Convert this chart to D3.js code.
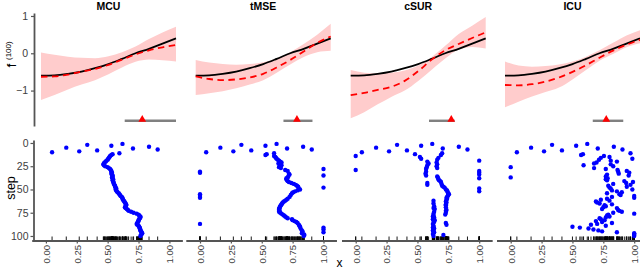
<!DOCTYPE html>
<html><head><meta charset="utf-8">
<script src="https://cdn.jsdelivr.net/npm/d3@7"></script>
<style>
body{margin:0;background:#fff}
svg{display:block}
text{font-family:"Liberation Sans",Arial,Helvetica,sans-serif}
</style>
</head><body>
<svg id="c" width="640" height="269"></svg>
<script>
// ---------------- DATA ----------------
const methods = ["MCU", "tMSE", "cSUR", "ICU"];
const xGrid = [0, 0.1, 0.2, 0.3, 0.4, 0.5, 0.6, 0.7, 0.8, 0.9, 1.0];
const trueF = [-0.60, -0.59, -0.55, -0.49, -0.40, -0.29, -0.15, 0.00, 0.12, 0.26, 0.40];

const meanMCU = [-0.63, -0.62, -0.57, -0.49, -0.42, -0.31, -0.17, -0.03, 0.08, 0.16, 0.22];
const lowMCU  = [-1.25, -1.12, -0.97, -0.84, -0.72, -0.56, -0.38, -0.23, -0.17, -0.19, -0.22];
const upMCU   = [0.02, -0.04, -0.09, -0.12, -0.13, -0.08, 0.03, 0.18, 0.38, 0.56, 0.71];

const meanTMSE = [-0.62, -0.69, -0.72, -0.70, -0.65, -0.55, -0.38, -0.18, 0.05, 0.28, 0.45];
const lowTMSE  = [-1.12, -1.07, -1.02, -0.94, -0.84, -0.72, -0.52, -0.30, -0.10, 0.03, 0.07];
const upTMSE   = [-0.18, -0.25, -0.29, -0.31, -0.29, -0.24, -0.14, 0.03, 0.25, 0.50, 0.79];

const meanCSUR = [-1.12, -1.06, -0.98, -0.90, -0.74, -0.48, -0.17, 0.08, 0.25, 0.41, 0.56];
const lowCSUR  = [-1.74, -1.58, -1.37, -1.17, -1.00, -0.74, -0.44, -0.14, 0.10, 0.17, 0.13];
const upCSUR   = [-0.45, -0.52, -0.54, -0.52, -0.46, -0.33, -0.10, 0.20, 0.52, 0.74, 0.97];

const meanICU = [-0.85, -0.86, -0.83, -0.76, -0.65, -0.50, -0.32, -0.12, 0.07, 0.23, 0.36];
const lowICU  = [-1.45, -1.30, -1.16, -1.04, -0.92, -0.70, -0.45, -0.20, -0.02, 0.16, 0.27];
const upICU   = [-0.22, -0.33, -0.36, -0.34, -0.30, -0.22, -0.09, 0.08, 0.28, 0.48, 0.62];

// interval (grey bar) and triangle marker in the top panels
const barLo = [0.62, 0.65, 0.58, 0.65];
const barHi = [1.00, 0.865, 0.77, 0.876];
const triX  = [0.75, 0.75, 0.745, 0.75];
const barLevel = -1.81;

// initial design (shared)
const initX    = [0.05, 0.165, 0.27, 0.335, 0.415, 0.53, 0.62, 0.705, 0.835, 0.905];
const initStep = [10, 5, 9, 2, 8, 3, 1, 6, 4, 7];

// sequential designs, steps 11..100
const seqMCU = [0.595,0.54,0.53,0.52,0.515,0.51,0.505,0.50,0.49,0.485,
0.475,0.47,0.465,0.47,0.48,0.50,0.51,0.52,0.525,0.53,
0.53,0.535,0.53,0.535,0.54,0.54,0.535,0.54,0.545,0.54,
0.545,0.545,0.55,0.55,0.555,0.56,0.56,0.565,0.57,0.565,
0.57,0.575,0.58,0.59,0.595,0.60,0.605,0.615,0.62,0.62,
0.625,0.63,0.635,0.64,0.645,0.65,0.65,0.645,0.64,0.645,
0.655,0.665,0.67,0.69,0.71,0.735,0.75,0.755,0.765,0.765,
0.76,0.755,0.75,0.75,0.745,0.74,0.735,0.74,0.75,0.755,
0.76,0.76,0.765,0.765,0.77,0.775,0.78,0.775,0.77,0.765];

const seqTMSE = [0.60,0.54,0.53,0.60,0.61,0.615,0.62,0.63,0.64,0.65,
0.66,0.635,0.65,0.66,0.645,0.64,0.655,1.0,0.69,0.71,
0.0,0.0,0.72,0.725,1.0,0.715,0.71,0.70,0.70,0.705,
0.71,0.72,0.74,0.76,0.775,0.785,0.795,1.0,0.80,0.81,
0.79,0.77,0.755,0.745,0.0,0.735,0.0,0.725,0.0,0.71,
0.70,0.69,0.68,0.67,0.665,0.66,0.655,0.65,0.645,0.645,
0.64,0.64,0.645,0.64,0.65,0.66,0.67,0.68,0.69,0.70,
0.71,0.745,0.75,0.765,0.78,0.79,0.0,0.80,0.805,0.81,
1.0,0.815,1.0,0.825,0.83,1.0,0.825,0.84,0.845,0.84];

const seqCSUR = [0.70,0.48,0.69,0.0,0.52,0.67,0.53,0.66,1.0,0.58,
0.655,0.59,0.66,0.58,0.655,0.575,0.66,0.57,0.0,1.0,
0.57,1.0,0.565,1.0,0.57,0.66,0.665,1.0,0.67,0.675,
0.685,0.69,0.58,0.695,0.58,0.70,0.71,0.72,1.0,0.73,
0.74,1.0,0.745,0.75,0.755,0.75,0.745,0.74,0.735,0.74,
0.735,0.63,0.73,0.735,0.63,0.73,0.73,0.635,0.73,0.63,
0.64,0.735,0.73,0.635,0.73,0.63,0.725,0.63,0.625,0.635,
0.63,0.625,0.64,0.63,0.635,0.73,0.625,0.735,0.63,0.63,
0.625,0.635,0.63,0.625,0.63,0.635,0.63,0.625,0.71,0.63];

const seqICU = [0.97,0.585,0.57,0.755,0.80,0.73,0.985,0.715,0.81,0.86,
0.695,0.675,0.81,0.59,0.83,0.0,0.675,0.77,0.865,0.94,
0.87,0.96,0.875,0.78,0.955,0.77,0.0,0.785,0.77,0.78,
0.92,0.99,0.935,0.83,0.97,0.79,0.94,0.80,0.81,0.985,
0.82,0.86,0.90,0.78,0.88,0.89,1.0,0.82,1.0,0.78,
0.73,0.80,0.69,0.70,0.72,0.82,0.76,0.77,0.75,0.86,
0.74,0.87,0.88,0.90,0.83,1.0,0.79,0.78,0.80,0.77,
0.72,0.73,0.76,0.69,0.74,0.82,0.70,0.65,0.77,0.50,
0.56,0.63,0.67,0.71,0.74,0.86,1.0,1.0,1.0,1.0];

const stepTicks = [0, 25, 50, 75, 100];
const xTicks = [0, 0.25, 0.5, 0.75, 1];
const fTicks = [-1, 0, 1];

// ---------------- BUILD ----------------
const means = [meanMCU, meanTMSE, meanCSUR, meanICU];
const lows = [lowMCU, lowTMSE, lowCSUR, lowICU];
const ups = [upMCU, upTMSE, upCSUR, upICU];
const seqs = [seqMCU, seqTMSE, seqCSUR, seqICU];

const svg = d3.select("#c");
const AX = "#555555", TXT = "#404040";

const topX0 = [41, 195.7, 350.7, 505], topW = 135;
const botX0 = [45.9, 200, 355.7, 510.7], botU = 123.5;

const yt = d3.scaleLinear().domain([-1.95, 1.08]).range([126, 13]);
const yb = d3.scaleLinear().domain([-3.2, 105.4]).range([140, 241]);

methods.forEach((m, i) => {
  const xt = d3.scaleLinear().domain([0, 1]).range([topX0[i], topX0[i] + topW]);
  const rows = xGrid.map((x, k) => ({x, f: trueF[k], m: means[i][k], lo: lows[i][k], hi: ups[i][k]}));
  const g = svg.append("g");

  g.append("path").datum(rows)
    .attr("d", d3.area().x(d => xt(d.x)).y0(d => yt(d.lo)).y1(d => yt(d.hi)).curve(d3.curveMonotoneX))
    .attr("fill", "#ffcccc");
  g.append("path").datum(rows)
    .attr("d", d3.line().x(d => xt(d.x)).y(d => yt(d.f)).curve(d3.curveMonotoneX))
    .attr("fill", "none").attr("stroke", "#000").attr("stroke-width", 1.8);
  g.append("path").datum(rows)
    .attr("d", d3.line().x(d => xt(d.x)).y(d => yt(d.m)).curve(d3.curveMonotoneX))
    .attr("fill", "none").attr("stroke", "#ff0000").attr("stroke-width", 1.8)
    .attr("stroke-dasharray", "6.5,4.5");

  // bar + triangle
  g.append("line").attr("x1", xt(barLo[i])).attr("x2", xt(barHi[i]))
    .attr("y1", yt(barLevel)).attr("y2", yt(barLevel))
    .attr("stroke", "#808080").attr("stroke-width", 2.4);
  g.append("path").attr("d", d3.symbol(d3.symbolTriangle, 26)())
    .attr("transform", `translate(${xt(triX[i])},${yt(barLevel) - 1.2})`)
    .attr("fill", "#ff0000");

  // title
  svg.append("text").attr("x", topX0[i] + topW / 2).attr("y", 10)
    .attr("text-anchor", "middle").attr("font-weight", "bold").attr("font-size", 10.5)
    .attr("fill", "#000").text(m);

  // bottom panel
  const xb = d3.scaleLinear().domain([-0.115, 1.105])
    .range([botX0[i] - 0.115 * botU, botX0[i] + 1.105 * botU]);
  const pts = initX.map((x, k) => ({x, s: initStep[k]}))
    .concat(seqs[i].map((x, k) => ({x, s: 11 + k})));

  const ax = svg.append("g").attr("transform", `translate(0,${yb(105.4) - 0.5})`)
    .call(d3.axisBottom(xb).tickValues(xTicks).tickFormat(d3.format(".2f")).tickSizeInner(3).tickSizeOuter(0));
  ax.select(".domain").attr("stroke", AX).attr("stroke-width", 1.8);
  ax.selectAll(".tick line").attr("stroke", AX).attr("stroke-width", 1.2);
  ax.selectAll(".tick text").attr("transform", "rotate(-90)")
    .attr("x", -4.5).attr("y", 0).attr("dy", "0.35em")
    .style("text-anchor", "end").attr("fill", TXT).attr("font-size", 9.5)
    .attr("font-family", '"Liberation Sans",Arial,sans-serif');

  // rug
  svg.append("g").selectAll("line").data(pts).join("line")
    .attr("x1", d => xb(d.x)).attr("x2", d => xb(d.x))
    .attr("y1", 236.5).attr("y2", 240)
    .attr("stroke", "#000").attr("stroke-width", 0.9);

  svg.append("g").selectAll("circle").data(pts).join("circle")
    .attr("cx", d => xb(d.x)).attr("cy", d => yb(d.s)).attr("r", 2.2)
    .attr("fill", "#0000ff");
});

// top y axis
const ay = svg.append("g").attr("transform", "translate(34,0)")
  .call(d3.axisLeft(yt).tickValues(fTicks).tickFormat(d3.format("d")).tickSizeInner(3).tickSizeOuter(0));
ay.select(".domain").attr("stroke", AX).attr("stroke-width", 1.8);
ay.selectAll(".tick line").attr("stroke", AX).attr("stroke-width", 1.2);
ay.selectAll(".tick text").attr("fill", TXT).attr("font-size", 10.5).attr("x", -6)
  .attr("font-family", '"Liberation Sans",Arial,sans-serif');

// bottom y axis
const ay2 = svg.append("g").attr("transform", "translate(33.5,0)")
  .call(d3.axisLeft(yb).tickValues(stepTicks).tickSizeInner(3).tickSizeOuter(0));
ay2.select(".domain").attr("stroke", AX).attr("stroke-width", 1.8);
ay2.selectAll(".tick line").attr("stroke", AX).attr("stroke-width", 1.2);
ay2.selectAll(".tick text").attr("fill", TXT).attr("font-size", 10.5).attr("x", -5)
  .attr("font-family", '"Liberation Sans",Arial,sans-serif');

// axis titles
const yl = svg.append("g").attr("transform", "translate(16,67) rotate(-90)");
yl.append("text").attr("x", 0).attr("y", 0).attr("font-size", 12).attr("fill", "#000").text("f");
yl.append("text").attr("x", -0.5).attr("y", -4.5).attr("font-size", 8).attr("fill", "#000").text("^");
yl.append("text").attr("x", 7).attr("y", -5).attr("font-size", 8).attr("fill", "#000").text("(100)");

svg.append("text").attr("transform", "translate(15,188) rotate(-90)")
  .attr("text-anchor", "middle").attr("font-size", 12.5).attr("fill", "#000").text("step");

svg.append("text").attr("x", 339.5).attr("y", 267).attr("text-anchor", "middle")
  .attr("font-size", 12).attr("fill", "#000").text("x");
</script>
</body></html>
